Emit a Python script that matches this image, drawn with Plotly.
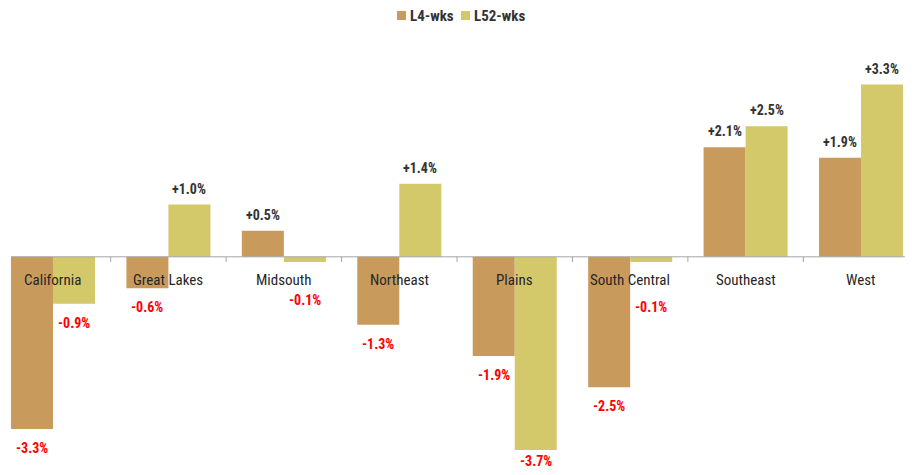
import plotly.graph_objects as go

categories = ["California", "Great Lakes", "Midsouth", "Northeast", "Plains",
              "South Central", "Southeast", "West"]
l4_wks = [-3.3, -0.6, 0.5, -1.3, -1.9, -2.5, 2.1, 1.9]
l52_wks = [-0.9, 1.0, -0.1, 1.4, -3.7, -0.1, 2.5, 3.3]
series_names = ["L4-wks", "L52-wks"]
series_colors = ["#C89B5D", "#D3C96B"]

# extra label offsets (px) for L52 labels that were moved in the original
l52_label_nudge = [0, 0, -19, 0, 8, -26, 0, 0]

FONT = "Liberation Sans Narrow, Roboto Condensed, Arial Narrow, Liberation Sans, sans-serif"

W, H = 919, 475
fig = go.Figure()
for name, vals, col in zip(series_names, [l4_wks, l52_wks], series_colors):
    fig.add_trace(go.Bar(x=list(range(len(categories))), y=vals, name=name,
                         showlegend=False, hoverinfo="skip",
                         marker=dict(color=col, line=dict(width=0))))

bar_w = 0.364
annotations = []
for si, vals in enumerate([l4_wks, l52_wks]):
    off = (-0.5 + si) * bar_w
    for i, v in enumerate(vals):
        txt = ("+" if v > 0 else "") + f"{v:.1f}%"
        shift = 16 if v > 0 else -19
        if si == 1:
            shift += l52_label_nudge[i]
        annotations.append(dict(
            x=i + off, y=v, xref="x", yref="y", text=f"<b>{txt}</b>",
            showarrow=False, yanchor="middle", yshift=shift,
            font=dict(family=FONT, size=14, color="#333333" if v > 0 else "#FF0000")))

for i, c in enumerate(categories):
    annotations.append(dict(x=i, y=0, xref="x", yref="y", text=c, showarrow=False,
                            yanchor="middle", yshift=-23,
                            font=dict(family=FONT, size=15, color="#262626")))

# legend (drawn manually to match the compact original layout)
legend_x = [397, 461]
shapes = []
for name, col, lx in zip(series_names, series_colors, legend_x):
    shapes.append(dict(type="rect", xref="paper", yref="paper",
                       x0=lx / W, x1=(lx + 9) / W, y0=1 - 20 / H, y1=1 - 11 / H,
                       fillcolor=col, line=dict(width=0)))
    annotations.append(dict(x=(lx + 11) / W, y=1 - 15.5 / H, xref="paper", yref="paper",
                            text=f"<b>{name}</b>", showarrow=False,
                            xanchor="left", yanchor="middle",
                            font=dict(family=FONT, size=15, color="#333333")))

shapes.append(dict(type="line", xref="x", yref="y", x0=-0.364, x1=7.38, y0=0, y1=0,
                   line=dict(color="#A6A6A6", width=1)))
for k in range(len(categories) - 1):
    shapes.append(dict(type="line", xref="x", yref="y", x0=k + 0.5, x1=k + 0.5,
                       y0=0, y1=-0.1, line=dict(color="#A6A6A6", width=1)))

fig.update_layout(
    width=W, height=H,
    margin=dict(l=0, r=0, t=0, b=0),
    paper_bgcolor="white", plot_bgcolor="white",
    barmode="group", bargap=0.272, bargroupgap=0,
    xaxis=dict(range=[-0.459, 7.502], showticklabels=False, showgrid=False,
               zeroline=False, showline=False, ticks=""),
    yaxis=dict(range=[-4.18, 4.92], showticklabels=False, showgrid=False,
               zeroline=False, showline=False, ticks=""),
    showlegend=False, hovermode=False,
    annotations=annotations, shapes=shapes,
)

fig.write_html("out.html", config={"displayModeBar": False},
               post_script="document.body.style.margin='0';")
